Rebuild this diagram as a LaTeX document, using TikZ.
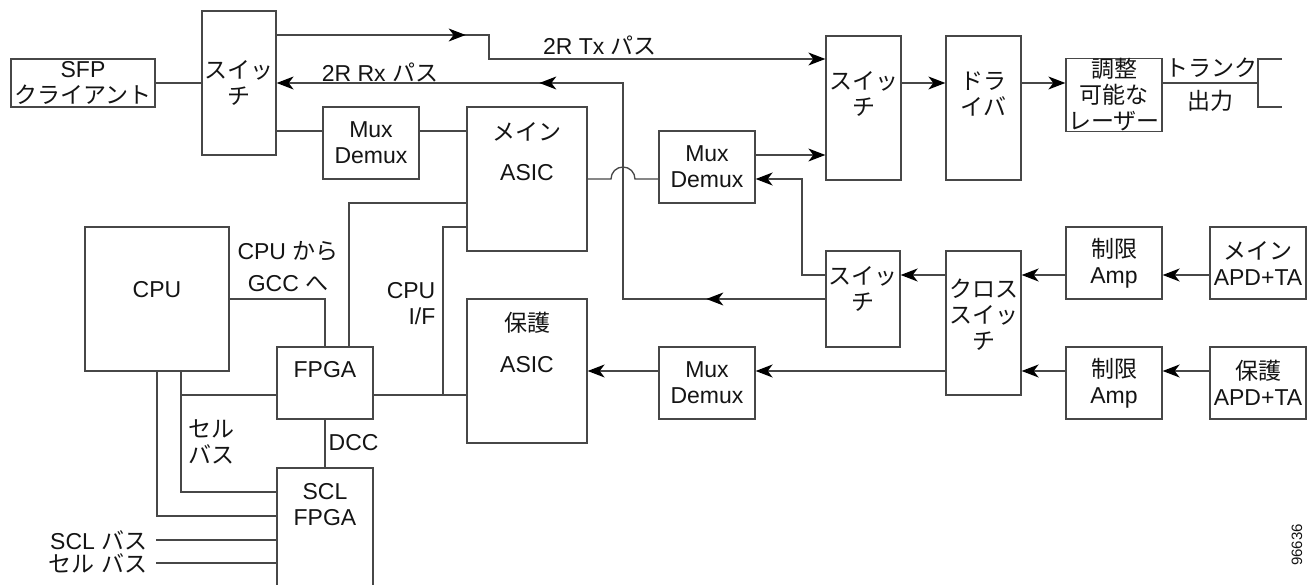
\documentclass[tikz,border=0pt]{standalone}
\usepackage{fontspec}
\setmainfont{Liberation Sans}
\newfontfamily\jpfont{Noto Sans CJK JP}
\newcommand\J[1]{{\jpfont #1}}
\newcommand\dfs{\fontsize{23}{26}\selectfont}
\usetikzlibrary{arrows.meta,decorations.markings}
\definecolor{lc}{gray}{0.28}
\definecolor{tc}{gray}{0.08}
\tikzset{mytip/.tip={Stealth[length=17pt,width=13pt,inset=5pt,color=black]}}
\begin{document}
\begin{tikzpicture}[x=1pt,y=-1pt, line width=1.3pt, color=lc,
  box/.style 2 args={draw=lc, line width=1.3pt, inner sep=0pt, align=center, text=tc, font=\dfs, minimum width=#1, minimum height=#2},
  txt/.style={inner sep=0pt, align=center, text=tc, font=\dfs},
  arr/.style={-{mytip}},
  tipmark/.style={postaction={decorate}, decoration={markings, mark=at position #1 with {\arrow{mytip}}}},
  twomarks/.style 2 args={postaction={decorate}, decoration={markings,
     mark=at position #1 with {\arrow{mytip}},
     mark=at position #2 with {\arrow{mytip}}}}
]
\clip (0,0) rectangle (1307,585);

% boxes
\node[box={144pt}{48pt}] (sfp) at (83,83) {SFP\\\J{クライアント}};
\node[box={74pt}{144pt}] (sw1) at (239,83) {\J{スイッ}\\\J{チ}};
\node[box={96pt}{72pt}] (mux1) at (371,143) {Mux\\Demux};
\node[box={120pt}{144pt}] (masic) at (527,179) {};
\node[txt] (masicA) at (527,132) {\J{メイン}};
\node[txt] (masicB) at (527,173) {ASIC};
\node[box={96pt}{72pt}] (mux2) at (707,167) {Mux\\Demux};
\node[box={75pt}{144pt}] (sw2) at (863.5,108) {};
\node[txt] (sw2t) at (863.5,94) {\J{スイッ}\\\J{チ}};
\node[box={75pt}{144pt}] (drv) at (983.5,108) {};
\node[txt] (drvt) at (983.5,94) {\J{ドラ}\\\J{イバ}};
\node[box={96pt}{72pt}] (laser) at (1114,95) {\J{調整}\\\J{可能な}\\\J{レーザー}};
\node[box={144pt}{144pt}] (cpu) at (157,299) {};
\node[txt] (cput) at (157,290) {CPU};
\node[box={96pt}{72pt}] (fpga) at (325,383) {};
\node[txt] (fpgat) at (325,370) {FPGA};
\node[box={120pt}{144pt}] (pasic) at (527,371) {};
\node[txt] (pasicA) at (527,323) {\J{保護}};
\node[txt] (pasicB) at (527,365) {ASIC};
\node[box={96pt}{72pt}] (mux3) at (707,383) {Mux\\Demux};
\node[box={74pt}{96pt}] (sw3) at (863,299) {};
\node[txt] (sw3t) at (863,289) {\J{スイッ}\\\J{チ}};
\node[box={75pt}{144pt}] (cross) at (983.5,323) {};
\node[txt] (crosst) at (983.5,315) {\J{クロス}\\\J{スイッ}\\\J{チ}};
\node[box={96pt}{72pt}] (amp1) at (1114,263) {\J{制限}\\Amp};
\node[box={96pt}{72pt}] (apd1) at (1258,263) {\J{メイン}\\APD+TA};
\node[box={96pt}{72pt}] (amp2) at (1114,383) {\J{制限}\\Amp};
\node[box={96pt}{72pt}] (apd2) at (1258,383) {\J{保護}\\APD+TA};
\node[box={96pt}{140pt}] (scl) at (325,538) {};
\node[txt] (sclt) at (325,505) {SCL\\FPGA};

% labels
\node[txt] (txl) at (600,45) {2R Tx \J{パス}};
\node[txt] (rxl) at (380,72) {2R Rx \J{パス}};
\node[txt] (gccl) at (288,267) {CPU \J{から}\\[6pt]GCC \J{へ}};
\node[txt, align=right, anchor=east] (cpuif) at (436,304) {CPU\\I/F};
\node[txt, align=left, anchor=west] (cellbus) at (188,442) {\J{セル}\\\J{バス}};
\node[txt, anchor=west] (dccl) at (328,443) {DCC};
\node[txt] (trunk1) at (1211,68) {\J{トランク}};
\node[txt] (trunk2) at (1210,101) {\J{出力}};
\node[txt, anchor=east] (sclbus) at (148,540) {SCL \J{バス}};
\node[txt, anchor=east] (cellbus2) at (148,563) {\J{セル} \J{バス}};
\node[txt, font=\fontsize{15}{15}\selectfont, rotate=90] (fig) at (1297,545) {96636};

% connectors
\draw (sfp) -- (sw1);
\coordinate (txk) at (489,35);
\draw[arr, tipmark=189pt] (sw1.east |- txk) -- (txk) -- (489,59) -- (sw2.west |- 0,59);
\coordinate (rxk) at (623,83);
\draw[arr, twomarks={119pt}{502pt}] (sw3.west) -- (rxk |- sw3.west) -- (rxk) -- (sw1.east |- rxk);
\draw (sw1.east |- 0,131) -- (mux1.west |- 0,131);
\draw (mux1.east |- 0,131) -- (masic.west |- 0,131);
\draw (masic.east) -- (611,179) arc[start angle=180,end angle=0,radius=12pt] -- (mux2.west |- 0,179);
\draw[arr] (mux2.east |- 0,155) -- (sw2.west |- 0,155);
\draw[arr] (sw3.west |- 0,275) -- (802,275) -- (802,179) -- (mux2.east |- 0,179);
\draw[arr] (sw2.east |- 0,83) -- (drv.west |- 0,83);
\draw[arr] (drv.east |- 0,83) -- (laser.west |- 0,83);
\coordinate (trk) at (1258,83);
\draw (laser.east |- trk) -- (trk);
\draw (1282,59) -- (1258,59) -- (1258,107) -- (1282,107);
\draw[arr] (cross.west |- 0,275) -- (sw3.east |- 0,275);
\draw[arr] (amp1.west |- 0,275) -- (cross.east |- 0,275);
\draw[arr] (apd1.west |- 0,275) -- (amp1.east |- 0,275);
\draw[arr] (apd2.west |- 0,371) -- (amp2.east |- 0,371);
\draw[arr] (amp2.west |- 0,371) -- (cross.east |- 0,371);
\draw[arr] (cross.west |- 0,371) -- (mux3.east |- 0,371);
\draw[arr] (mux3.west |- 0,371) -- (pasic.east |- 0,371);
\draw (cpu.east) -- (fpga.north |- cpu.east) -- (fpga.north);
\draw (fpga.north -| 349,0) -- (349,203) -- (masic.west |- 0,203);
\draw (masic.west |- 0,227) -- (443,227) -- (443,395);
\draw (fpga.east |- 0,395) -- (pasic.west |- 0,395);
\draw (cpu.south) -- (cpu.south |- 0,516) -- (scl.west |- 0,516);
\draw (cpu.south -| 181,0) -- (181,492) -- (scl.west |- 0,492);
\draw (181,395) -- (fpga.west |- 0,395);
\draw (fpga.south) -- (scl.north);
\draw (sclbus.east) ++(8pt,0) -- (scl.west |- sclbus.east);
\draw (cellbus2.east) ++(8pt,0) -- (scl.west |- cellbus2.east);
\end{tikzpicture}
\end{document}
